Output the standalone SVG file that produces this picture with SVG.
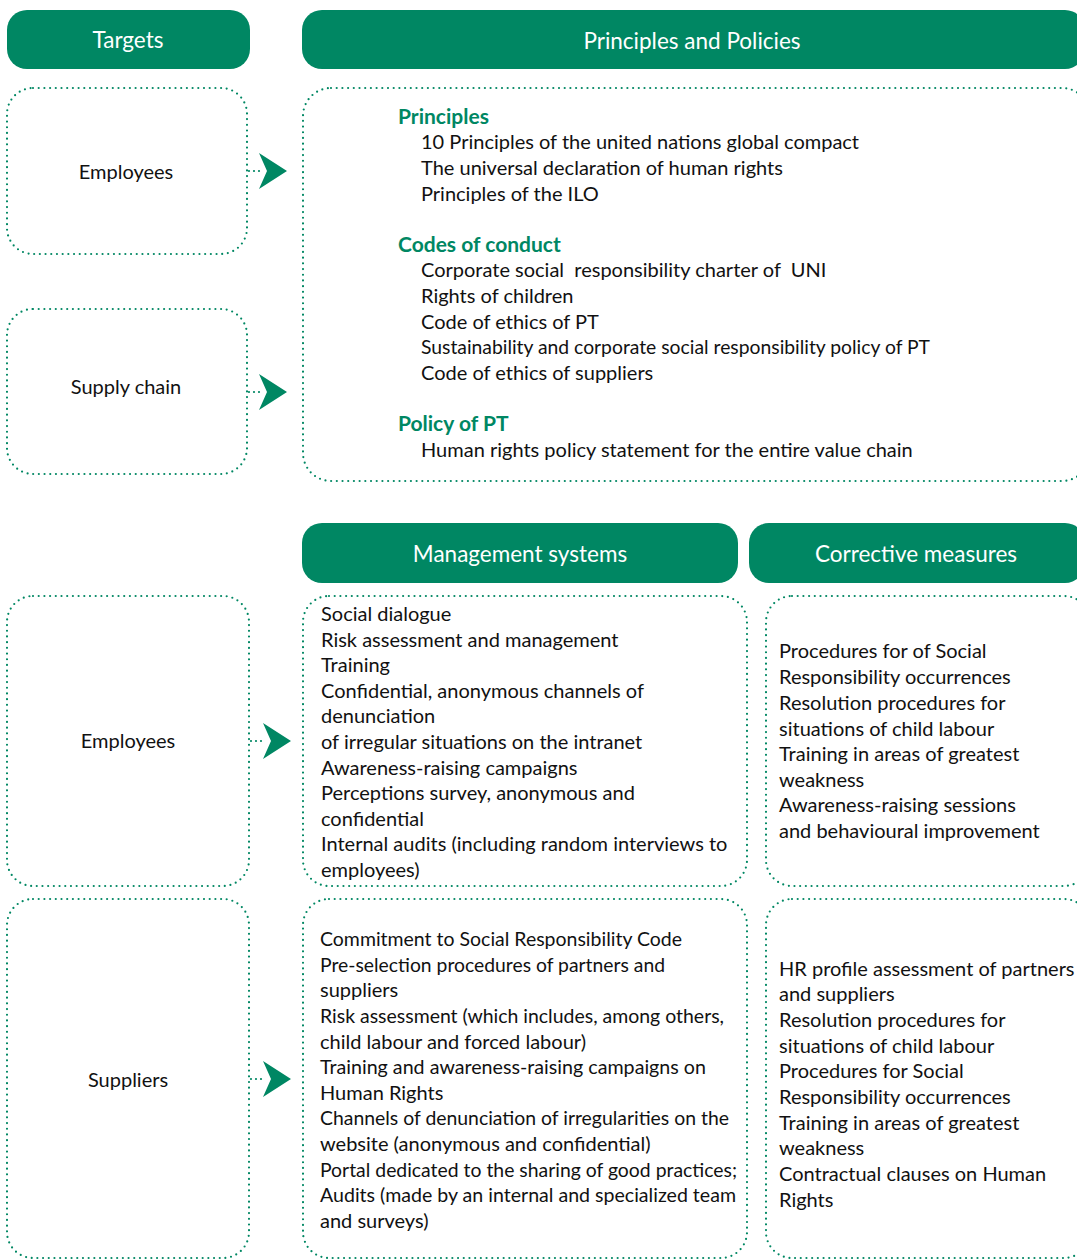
<svg xmlns="http://www.w3.org/2000/svg" width="1077" height="1260" viewBox="0 0 1077 1260">
  <defs>
    <style>
      .hdr { fill: #008763; }
      .hdr-t { fill: #ffffff; font-family: Lato, "Noto Sans", sans-serif; font-size: 22.5px; text-anchor: middle; }
      .box { fill: none; stroke: #008763; stroke-width: 2.2; stroke-dasharray: 0 5.7; stroke-linecap: round; }
      .lbl { fill: #111111; font-family: Lato, "Noto Sans", sans-serif; font-size: 20px; }
      .mid { text-anchor: middle; }
      .sec { fill: #008763; font-family: Lato, "Noto Sans", sans-serif; font-size: 21px; font-weight: bold; }
      .conn { fill: none; stroke: #008763; stroke-width: 2.2; stroke-dasharray: 0 5; stroke-linecap: round; }
      .head { fill: #008763; }
    </style>
    <path id="arrowhead" d="M0,-18 L28,0 L0,18 L8,0 Z"/>
  </defs>

  <!-- column headers -->
  <g id="hdr-targets">
    <rect class="hdr" x="7" y="10" width="243" height="59" rx="20"/>
    <text class="hdr-t" x="128" y="48">Targets</text>
  </g>
  <g id="hdr-principles">
    <rect class="hdr" x="302" y="10" width="783" height="59" rx="20"/>
    <text class="hdr-t" x="692" y="49">Principles and Policies</text>
  </g>
  <g id="hdr-management">
    <rect class="hdr" x="302" y="523" width="436" height="60" rx="20"/>
    <text class="hdr-t" x="520" y="562">Management systems</text>
  </g>
  <g id="hdr-corrective">
    <rect class="hdr" x="749" y="523" width="336" height="60" rx="20"/>
    <text class="hdr-t" x="916" y="562">Corrective measures</text>
  </g>

  <!-- targets, top section -->
  <g id="target-employees-1">
    <rect class="box" x="7" y="88" width="240" height="166" rx="26"/>
    <text class="lbl mid" x="126" y="179">Employees</text>
  </g>
  <g id="target-supply-chain">
    <rect class="box" x="7" y="309" width="240" height="165" rx="26"/>
    <text class="lbl mid" x="126" y="394">Supply chain</text>
  </g>

  <!-- principles and policies -->
  <g id="principles-policies">
    <rect class="box" x="303" y="88" width="787" height="393" rx="28"/>
    <text class="sec" x="398" y="124">Principles</text>
    <text class="lbl" x="421" y="149">10 Principles of the united nations global compact</text>
    <text class="lbl" x="421" y="175">The universal declaration of human rights</text>
    <text class="lbl" x="421" y="201">Principles of the ILO</text>
    <text class="sec" x="398" y="252">Codes of conduct</text>
    <text class="lbl" x="421" y="277" xml:space="preserve">Corporate social  responsibility charter of  UNI</text>
    <text class="lbl" x="421" y="303">Rights of children</text>
    <text class="lbl" x="421" y="329">Code of ethics of PT</text>
    <text class="lbl" x="421" y="354" textLength="509" lengthAdjust="spacingAndGlyphs">Sustainability and corporate social responsibility policy of PT</text>
    <text class="lbl" x="421" y="380">Code of ethics of suppliers</text>
    <text class="sec" x="398" y="431">Policy of PT</text>
    <text class="lbl" x="421" y="457">Human rights policy statement for the entire value chain</text>
  </g>

  <!-- targets, bottom section -->
  <g id="target-employees-2">
    <rect class="box" x="7" y="596" width="242" height="290" rx="26"/>
    <text class="lbl mid" x="128" y="748">Employees</text>
  </g>
  <g id="target-suppliers">
    <rect class="box" x="7" y="899" width="242" height="359" rx="26"/>
    <text class="lbl mid" x="128" y="1087">Suppliers</text>
  </g>

  <!-- management systems -->
  <g id="mgmt-employees">
    <rect class="box" x="303" y="596" width="444" height="290" rx="26"/>
    <text class="lbl" x="321" y="621">Social dialogue</text>
    <text class="lbl" x="321" y="647">Risk assessment and management</text>
    <text class="lbl" x="321" y="672">Training</text>
    <text class="lbl" x="321" y="698">Confidential, anonymous channels of</text>
    <text class="lbl" x="321" y="723">denunciation</text>
    <text class="lbl" x="321" y="749">of irregular situations on the intranet</text>
    <text class="lbl" x="321" y="775">Awareness-raising campaigns</text>
    <text class="lbl" x="321" y="800">Perceptions survey, anonymous and</text>
    <text class="lbl" x="321" y="826">confidential</text>
    <text class="lbl" x="321" y="851">Internal audits (including random interviews to</text>
    <text class="lbl" x="321" y="877">employees)</text>
  </g>
  <g id="mgmt-suppliers">
    <rect class="box" x="303" y="899" width="444" height="359" rx="26"/>
    <text class="lbl" x="320" y="946" textLength="362" lengthAdjust="spacingAndGlyphs">Commitment to Social Responsibility Code</text>
    <text class="lbl" x="320" y="972" textLength="345" lengthAdjust="spacingAndGlyphs">Pre-selection procedures of partners and</text>
    <text class="lbl" x="320" y="997">suppliers</text>
    <text class="lbl" x="320" y="1023" textLength="404" lengthAdjust="spacingAndGlyphs">Risk assessment (which includes, among others,</text>
    <text class="lbl" x="320" y="1049">child labour and forced labour)</text>
    <text class="lbl" x="320" y="1074" textLength="386" lengthAdjust="spacingAndGlyphs">Training and awareness-raising campaigns on</text>
    <text class="lbl" x="320" y="1100">Human Rights</text>
    <text class="lbl" x="320" y="1125" textLength="409" lengthAdjust="spacingAndGlyphs">Channels of denunciation of irregularities on the</text>
    <text class="lbl" x="320" y="1151">website (anonymous and confidential)</text>
    <text class="lbl" x="320" y="1177" textLength="417" lengthAdjust="spacingAndGlyphs">Portal dedicated to the sharing of good practices;</text>
    <text class="lbl" x="320" y="1202" textLength="416" lengthAdjust="spacingAndGlyphs">Audits (made by an internal and specialized team</text>
    <text class="lbl" x="320" y="1228">and surveys)</text>
  </g>

  <!-- corrective measures -->
  <g id="corr-employees">
    <rect class="box" x="766" y="596" width="324" height="290" rx="26"/>
    <text class="lbl" x="779" y="658">Procedures for of Social</text>
    <text class="lbl" x="779" y="684">Responsibility occurrences</text>
    <text class="lbl" x="779" y="710">Resolution procedures for</text>
    <text class="lbl" x="779" y="736">situations of child labour</text>
    <text class="lbl" x="779" y="761">Training in areas of greatest</text>
    <text class="lbl" x="779" y="787">weakness</text>
    <text class="lbl" x="779" y="812">Awareness-raising sessions</text>
    <text class="lbl" x="779" y="838">and behavioural improvement</text>
  </g>
  <g id="corr-suppliers">
    <rect class="box" x="766" y="899" width="324" height="359" rx="26"/>
    <text class="lbl" x="779" y="976">HR profile assessment of partners</text>
    <text class="lbl" x="779" y="1001">and suppliers</text>
    <text class="lbl" x="779" y="1027">Resolution procedures for</text>
    <text class="lbl" x="779" y="1053">situations of child labour</text>
    <text class="lbl" x="779" y="1078">Procedures for Social</text>
    <text class="lbl" x="779" y="1104">Responsibility occurrences</text>
    <text class="lbl" x="779" y="1130">Training in areas of greatest</text>
    <text class="lbl" x="779" y="1155">weakness</text>
    <text class="lbl" x="779" y="1181">Contractual clauses on Human</text>
    <text class="lbl" x="779" y="1207">Rights</text>
  </g>

  <!-- connectors -->
  <g id="connectors">
    <line class="conn" x1="249" y1="171" x2="262" y2="171"/>
    <use href="#arrowhead" class="head" x="259" y="171"/>
    <line class="conn" x1="249" y1="392" x2="262" y2="392"/>
    <use href="#arrowhead" class="head" x="259" y="392"/>
    <line class="conn" x1="251" y1="741" x2="266" y2="741"/>
    <use href="#arrowhead" class="head" x="263" y="741"/>
    <line class="conn" x1="251" y1="1079" x2="266" y2="1079"/>
    <use href="#arrowhead" class="head" x="263" y="1079"/>
  </g>
</svg>
